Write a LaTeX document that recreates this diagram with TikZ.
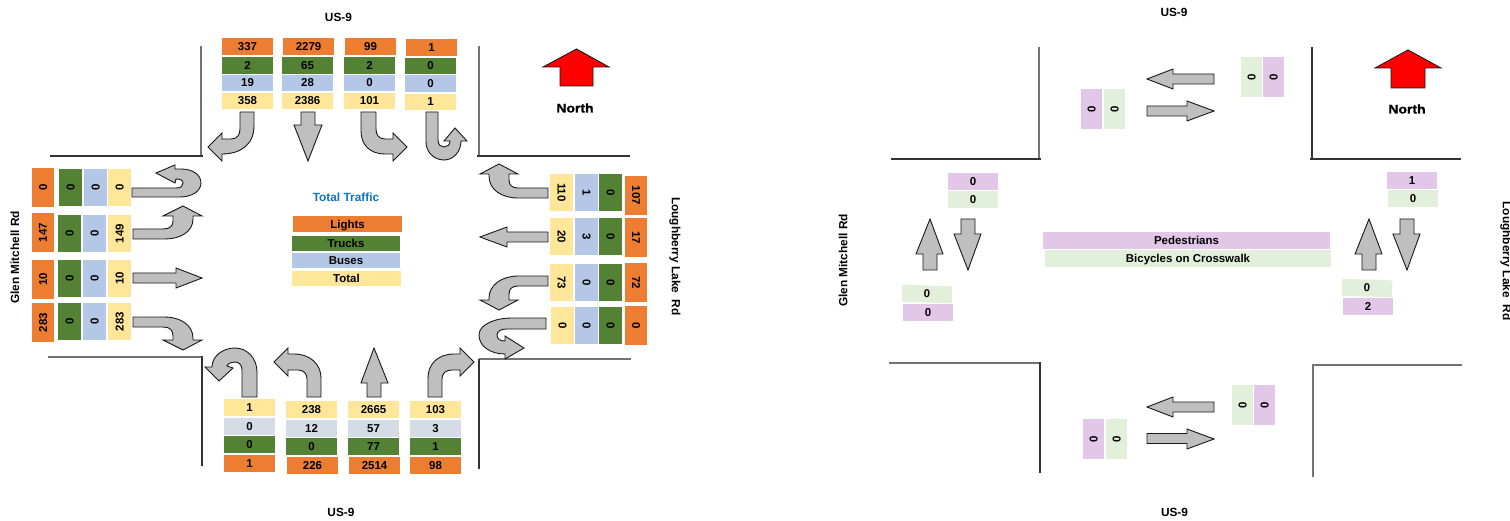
\documentclass[tikz,border=0pt]{standalone}
\usepackage{fontspec}
\setmainfont{Liberation Sans}[BoldFont={Liberation Sans Bold}]
\newfontfamily\northfont{Liberation Sans Bold}[FakeBold=1.2,FakeStretch=1.12]
\definecolor{org}{HTML}{ED7D31}
\definecolor{grn}{HTML}{548235}
\definecolor{blu}{HTML}{B4C7E7}
\definecolor{yel}{HTML}{FFE699}
\definecolor{gbl}{HTML}{D6DCE5}
\definecolor{pur}{HTML}{E3C7E8}
\definecolor{lgr}{HTML}{E2EFDA}
\definecolor{arr}{HTML}{BFBFBF}
\definecolor{ttl}{HTML}{0F75BD}
\newcommand{\hcell}[8][0]{%
  \pgfmathsetmacro\cwd{#5-#3}\pgfmathsetmacro\cht{#6-#4}%
  \pgfmathsetmacro\cxx{(#3+#5)/2}\pgfmathsetmacro\cyy{(#4+#6)/2}%
  \node[cell,fill=#7,minimum width=\cwd bp,minimum height=\cht bp,rotate=#1] (#2) at (\cxx,\cyy) {#8};}
\newcommand{\vcell}[8][90]{%
  \pgfmathsetmacro\cwd{#5-#3}\pgfmathsetmacro\cht{#6-#4}%
  \pgfmathsetmacro\cxx{(#3+#5)/2}\pgfmathsetmacro\cyy{(#4+#6)/2}%
  \node[cell,fill=#7,minimum width=\cht bp,minimum height=\cwd bp,rotate=#1] (#2) at (\cxx,\cyy) {#8};}
\tikzset{
  cell/.style={inner sep=0pt,outer sep=0pt,text depth=0pt,font=\bfseries\fontsize{11.5}{12}\selectfont,text=black},
  lbl/.style={inner sep=0pt,font=\bfseries\fontsize{11.9}{13}\selectfont,text=black},
  northlbl/.style={inner sep=0pt,font=\northfont\fontsize{12.5}{14}\selectfont,text=black},
  road/.style={draw=black!80,line width=1.1pt},
  roadg/.style={draw=black!55,line width=1.3pt},
  turn/.style={draw=black!90,fill=arr,line width=0.9pt,line join=miter},
  northarrow/.style={draw=black!90,fill=red,line width=0.9pt}
}
\begin{document}
\begin{tikzpicture}[x=1bp,y=-1bp]
\useasboundingbox (0,0) rectangle (1510,521);
\fill[white] (0,0) rectangle (1510,521);
% --- left panel roads
\draw[roadg] (201,46) -- (201,156);
\draw[road] (50,156) -- (203,156);
\draw[roadg] (479,46) -- (479,156);
\draw[road] (477,156) -- (630,156);
\draw[roadg] (48,357) -- (202,357);
\draw[road] (202,356) -- (202,466);
\draw[roadg] (479,359) -- (631,359);
\draw[road] (479,359) -- (479,469);
% --- top cells
\hcell{ta1}{222}{38}{273}{55}{org}{337}
\hcell{ta2}{222}{57}{273}{74}{grn}{2}
\hcell{ta3}{222}{75}{273}{91}{blu}{19}
\hcell{ta4}{222}{93}{273}{109}{yel}{358}
\hcell{tb1}{283}{38}{334}{55}{org}{2279}
\hcell{tb2}{282}{57}{333}{74}{grn}{65}
\hcell{tb3}{282}{75}{333}{91}{blu}{28}
\hcell{tb4}{282}{93}{333}{109}{yel}{2386}
\hcell{tc1}{345}{38}{396}{55}{org}{99}
\hcell{tc2}{344}{57}{395}{74}{grn}{2}
\hcell{tc3}{344}{75}{395}{91}{blu}{0}
\hcell{tc4}{344}{93}{395}{109}{yel}{101}
\hcell{td1}{406}{39}{457}{56}{org}{1}
\hcell{td2}{405}{58}{456}{74}{grn}{0}
\hcell{td3}{405}{75}{456}{92}{blu}{0}
\hcell{td4}{405}{94}{456}{110}{yel}{1}
% --- left cells
\vcell{la1}{32}{168}{54}{207}{org}{0}
\vcell{la2}{59}{169}{82}{206}{grn}{0}
\vcell{la3}{84}{169}{107}{206}{blu}{0}
\vcell{la4}{108}{169}{131}{206}{yel}{0}
\vcell{lb1}{32}{213}{54}{252}{org}{147}
\vcell{lb2}{58}{215}{81}{252}{grn}{0}
\vcell{lb3}{83}{215}{106}{252}{blu}{0}
\vcell{lb4}{108}{215}{131}{252}{yel}{149}
\vcell{lc1}{32}{260}{54}{299}{org}{10}
\vcell{lc2}{58}{260}{81}{297}{grn}{0}
\vcell{lc3}{83}{260}{106}{297}{blu}{0}
\vcell{lc4}{108}{260}{131}{297}{yel}{10}
\vcell{ld1}{32}{303}{54}{342}{org}{283}
\vcell{ld2}{58}{303}{81}{340}{grn}{0}
\vcell{ld3}{83}{303}{106}{340}{blu}{0}
\vcell{ld4}{108}{303}{131}{340}{yel}{283}
% --- right cells
\vcell[-90]{ra1}{550}{174}{573}{211}{yel}{110}
\vcell[-90]{ra2}{575}{174}{598}{211}{blu}{1}
\vcell[-90]{ra3}{599}{174}{622}{211}{grn}{0}
\vcell[-90]{ra4}{625}{176}{647}{215}{org}{107}
\vcell[-90]{rb1}{550}{218}{573}{255}{yel}{20}
\vcell[-90]{rb2}{575}{218}{598}{255}{blu}{3}
\vcell[-90]{rb3}{599}{218}{622}{255}{grn}{0}
\vcell[-90]{rb4}{625}{218}{647}{257}{org}{17}
\vcell[-90]{rc1}{550}{264}{573}{301}{yel}{73}
\vcell[-90]{rc2}{575}{264}{598}{301}{blu}{0}
\vcell[-90]{rc3}{599}{264}{622}{301}{grn}{0}
\vcell[-90]{rc4}{625}{263}{647}{302}{org}{72}
\vcell[-90]{rd1}{551}{307}{574}{344}{yel}{0}
\vcell[-90]{rd2}{575}{307}{598}{344}{blu}{0}
\vcell[-90]{rd3}{599}{307}{622}{344}{grn}{0}
\vcell[-90]{rd4}{625}{306}{647}{345}{org}{0}
% --- bottom cells
\hcell{ba1}{224}{399}{275}{416}{yel}{1}
\hcell{ba2}{224}{418}{275}{435}{gbl}{0}
\hcell{ba3}{224}{436}{275}{453}{grn}{0}
\hcell{ba4}{224}{455}{275}{472}{org}{1}
\hcell{bb1}{286}{401}{337}{418}{yel}{238}
\hcell{bb2}{286}{420}{337}{437}{gbl}{12}
\hcell{bb3}{286}{438}{337}{455}{grn}{0}
\hcell{bb4}{287}{457}{338}{474}{org}{226}
\hcell{bc1}{348}{401}{399}{418}{yel}{2665}
\hcell{bc2}{348}{420}{399}{437}{gbl}{57}
\hcell{bc3}{348}{438}{399}{455}{grn}{77}
\hcell{bc4}{349}{457}{400}{474}{org}{2514}
\hcell{bd1}{410}{401}{461}{418}{yel}{103}
\hcell{bd2}{410}{420}{461}{437}{gbl}{3}
\hcell{bd3}{410}{438}{461}{455}{grn}{1}
\hcell{bd4}{410}{457}{461}{474}{org}{98}
% --- legend
\node[lbl,text=ttl] (tt) at (346,197) {Total Traffic};
\hcell{lg1}{293}{216}{402}{232}{org}{Lights}
\hcell{lg2}{292}{236}{400}{251}{grn}{Trucks}
\hcell{lg3}{292}{253}{400}{268}{blu}{Buses}
\hcell{lg4}{292}{271}{401}{286}{yel}{Total}
% --- left panel arrows
\draw[turn] (240,112)--(254,112)--(254,126) .. controls (254,145) and (240,154) .. (222,154)--(222,161)--(208,147)--(222,133)--(222,139)--(231,139) .. controls (237,139) and (240,135) .. (240,129)--cycle;
\draw[turn] (301,112)--(315,112)--(315,125)--(322,125)--(308,161)--(294,125)--(301,125)--cycle;
\draw[turn] (361,112)--(376,112)--(376,129) .. controls (376,135) and (379,139) .. (385,139)--(393,139)--(393,133)--(407,147)--(393,161)--(393,154)--(385,154) .. controls (370,154) and (361,145) .. (361,131)--cycle;
\draw[turn] (426,112)--(438,112)--(438,140) .. controls (438,145) and (441,147) .. (444,147) .. controls (447,147) and (450,145) .. (450,141)--(444,141)--(455,128)--(467,141)--(461,141) .. controls (461,152) and (453,160) .. (444,160) .. controls (434,160) and (426,152) .. (426,142)--cycle;
\draw[turn] (132,188)--(176,188) .. controls (181,188) and (183,186) .. (183,183) .. controls (183,180) and (180,179) .. (176,179)--(175,183)--(156,173)--(175,165)--(175,169)--(181,169) .. controls (193,169) and (201,175) .. (201,183) .. controls (201,191) and (192,197) .. (180,197)--(132,197)--cycle;
\draw[turn] (133,229)--(163,229) .. controls (170,229) and (173,226) .. (173,221)--(173,216)--(163,216)--(183,206)--(202,216)--(193,216)--(193,219) .. controls (193,232) and (180,239) .. (165,239)--(133,239)--cycle;
\draw[turn] (133,273)--(176,273)--(176,268)--(202,278)--(176,288)--(176,283)--(133,283)--cycle;
\draw[turn] (133,317)--(165,317) .. controls (180,317) and (193,325) .. (193,338)--(193,340)--(202,340)--(183,350)--(163,340)--(173,340)--(173,336) .. controls (173,330) and (170,327) .. (163,327)--(133,327)--cycle;
\draw[turn] (548,188)--(518,188) .. controls (512,188) and (509,185) .. (509,180)--(509,174)--(518,174)--(499,164)--(480,174)--(489,174)--(489,176) .. controls (489,190) and (502,198) .. (518,198)--(548,198)--cycle;
\draw[turn] (548,232)--(507,232)--(507,227)--(480,237)--(507,247)--(507,242)--(548,242)--cycle;
\draw[turn] (548,276)--(518,276) .. controls (502,276) and (489,285) .. (489,298)--(489,300)--(480,300)--(499,310)--(518,300)--(509,300)--(509,294) .. controls (509,289) and (512,286) .. (518,286)--(548,286)--cycle;
\draw[turn] (546,318)--(512,318) .. controls (494,318) and (479,325) .. (479,335) .. controls (479,346) and (490,354) .. (505,354)--(505,359)--(524,348)--(505,336)--(505,341) .. controls (500,341) and (497,339) .. (497,335) .. controls (497,331) and (501,329) .. (507,329)--(546,329)--cycle;
\draw[turn] (242,397)--(257,397)--(257,372) .. controls (257,358) and (247,348) .. (235,348) .. controls (223,348) and (212,356) .. (212,367)--(205,367)--(219,381)--(233,368)--(227,366) .. controls (228,363) and (232,362) .. (235,362) .. controls (239,362) and (242,365) .. (242,370)--cycle;
\draw[turn] (307,397)--(321,397)--(321,378) .. controls (321,364) and (310,354) .. (294,354)--(288,354)--(288,348)--(274,362)--(288,376)--(288,370)--(298,370) .. controls (303,370) and (307,373) .. (307,379)--cycle;
\draw[turn] (367,397)--(381,397)--(381,383)--(388,383)--(374,348)--(361,383)--(367,383)--cycle;
\draw[turn] (428,397)--(442,397)--(442,379) .. controls (442,373) and (446,370) .. (452,370)--(460,370)--(460,376)--(474,362)--(460,348)--(460,354)--(454,354) .. controls (438,354) and (428,364) .. (428,378)--cycle;
\draw[northarrow] (576.5,49)--(609,67)--(593,67)--(593,86)--(560,86)--(560,67)--(543,67)--cycle;
\node[northlbl] (n1) at (575,108) {North};
\node[lbl] (us1) at (338.5,17) {US-9};
\node[lbl] (us2) at (341,512) {US-9};
\node[lbl,rotate=90] (gm1) at (15,257.5) {Glen Mitchell Rd};
\node[lbl,rotate=-90] (ll1) at (675,256.5) {Loughberry Lake~ Rd};
% --- right panel roads
\draw[roadg] (1039,47) -- (1039,159);
\draw[road] (891,159) -- (1041,159);
\draw[road] (1312,47) -- (1312,159);
\draw[road] (1310,159) -- (1461,159);
\draw[roadg] (889,363) -- (1040,363);
\draw[road] (1040,362) -- (1040,473);
\draw[roadg] (1312,365) -- (1462,365);
\draw[roadg] (1313,364) -- (1313,477);
% --- right panel cells
\vcell{pa1}{1081}{89}{1102}{129}{pur}{0}
\vcell{pa2}{1104}{89}{1125}{129}{lgr}{0}
\vcell{pb1}{1241}{57}{1262}{97}{lgr}{0}
\vcell{pb2}{1263}{57}{1284}{97}{pur}{0}
\hcell{pc1}{948}{173}{998}{190}{pur}{0}
\hcell{pc2}{948}{191}{998}{208}{lgr}{0}
\hcell[-2]{pd1}{902}{285.5}{952}{302.5}{lgr}{0}
\hcell{pd2}{903}{304}{953}{321}{pur}{0}
\hcell{pe1}{1387}{172}{1437}{189}{pur}{1}
\hcell{pe2}{1388}{190}{1438}{207}{lgr}{0}
\hcell[-2]{pf1}{1342}{279.5}{1392}{296.5}{lgr}{0}
\hcell{pf2}{1343}{298}{1393}{315}{pur}{2}
\vcell{pg1}{1083}{419}{1104}{459}{pur}{0}
\vcell{pg2}{1106}{419}{1127}{459}{lgr}{0}
\vcell{ph1}{1232}{385}{1253}{425}{lgr}{0}
\vcell{ph2}{1254}{385}{1275}{425}{pur}{0}
\hcell{pl1}{1043}{232}{1330}{249}{pur}{Pedestrians}
\hcell{pl2}{1045}{250}{1331}{267}{lgr}{Bicycles on Crosswalk}
% --- right panel arrows
\draw[turn] (1214,74)--(1173,74)--(1173,69)--(1147,79)--(1173,89)--(1173,84)--(1214,84)--cycle;
\draw[turn] (1147,106)--(1187,106)--(1187,101)--(1214,111)--(1187,121)--(1187,116)--(1147,116)--cycle;
\draw[turn] (1214,402)--(1173,402)--(1173,397)--(1147,407)--(1173,417)--(1173,412)--(1214,412)--cycle;
\draw[turn] (1147,433.5)--(1187,433.5)--(1187,429)--(1214,439)--(1187,449)--(1187,443.5)--(1147,443.5)--cycle;
\draw[turn] (923,270)--(923,254)--(916,254)--(930,219)--(943,254)--(937,254)--(937,270)--cycle;
\draw[turn] (961,219)--(975,219)--(975,234)--(981,234)--(968,270)--(954,234)--(961,234)--cycle;
\draw[turn] (1362,270)--(1362,254)--(1355,254)--(1369,219)--(1382,254)--(1376,254)--(1376,270)--cycle;
\draw[turn] (1400,219)--(1414,219)--(1414,234)--(1420,234)--(1407,270)--(1393,234)--(1400,234)--cycle;
\draw[northarrow] (1408,50)--(1441,68)--(1425,68)--(1425,88)--(1391,88)--(1391,68)--(1375,68)--cycle;
\node[northlbl] (n2) at (1407,109) {North};
\node[lbl] (us3) at (1174,12) {US-9};
\node[lbl] (us4) at (1174.5,512) {US-9};
\node[lbl,rotate=90] (gm2) at (843,260.5) {Glen Mitchell Rd};
\node[lbl,rotate=-90] (ll2) at (1506,261) {Loughberry Lake~ Rd};
\end{tikzpicture}
\end{document}
